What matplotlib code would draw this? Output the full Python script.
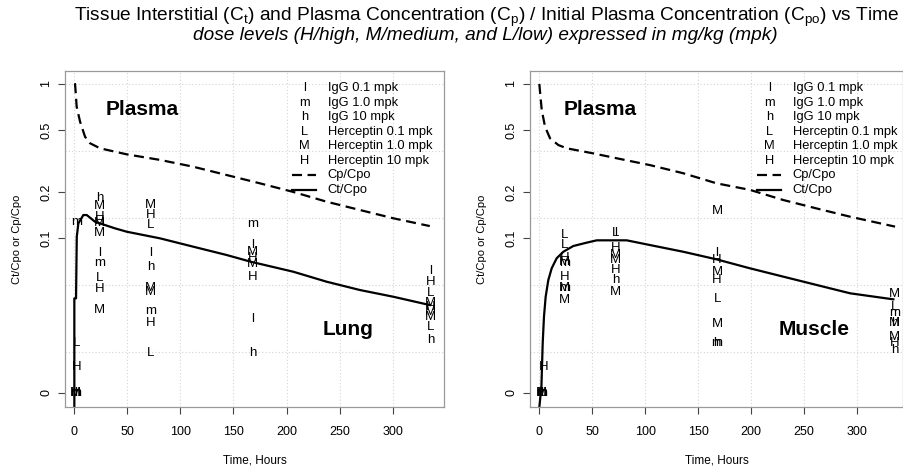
import numpy as np
import matplotlib
matplotlib.use("Agg")
import matplotlib.pyplot as plt
from matplotlib import font_manager

# ---------------------------------------------------------------------------
# Data (values are Ct/Cpo or Cp/Cpo, 0.01 shown as "0")
# ---------------------------------------------------------------------------
lung_cp_t = [0, 0.7, 2.2, 5.4, 10.1, 14.8, 24.2, 49.4, 80.8, 112, 143.6, 175,
             206, 237.8, 269.2, 300.6, 335]
lung_cp = [1.0, 1.0, 0.712, 0.570, 0.455, 0.413, 0.383, 0.350, 0.322, 0.291,
           0.257, 0.227, 0.200, 0.1726, 0.1525, 0.1348, 0.120]
lung_ct_t = [0, 0, 1.6, 2.3, 3.8, 8.5, 11.7, 19.5, 38.3, 49.4, 80.8, 112.1,
             143.6, 166.2, 206.4, 237.8, 269.2, 300.6, 335.2]
lung_ct = [0.008, 0.0408, 0.0408, 0.1024, 0.125, 0.1415, 0.1415, 0.128, 0.116,
           0.1103, 0.0999, 0.0882, 0.0779, 0.0705, 0.0607, 0.0523, 0.0462,
           0.0418, 0.0369]

muscle_cp_t = [0, 2.3, 5.4, 10.1, 18, 25.9, 51, 73.2, 104.6, 136, 167.6, 199,
               230.6, 262.2, 293.7, 336.2]
muscle_cp = [1.0, 0.678, 0.529, 0.445, 0.402, 0.383, 0.355, 0.330, 0.298,
             0.264, 0.227, 0.206, 0.177, 0.156, 0.138, 0.119]
muscle_ct_t = [0, 2, 3.2, 4.4, 6, 8.5, 11.7, 16.4, 22.7, 32.1, 44.8, 54.3,
               82.6, 104.6, 136, 167.6, 199, 230.6, 262.2, 293.7, 334.6]
muscle_ct = [0.008, 0.011, 0.0209, 0.0310, 0.0418, 0.0536, 0.0639, 0.0742,
             0.0818, 0.0891, 0.0937, 0.097, 0.097, 0.0904, 0.0818, 0.0730,
             0.0639, 0.0564, 0.0498, 0.0440, 0.0402]

# observed points, plotted with letter symbols
lung_obs_t = ([1.5] * 4 + [2, 2.5, 2.5]
              + [24] * 11 + [72] * 10 + [168] * 8 + [336] * 9)
lung_obs_v = ([0.01, 0.01, 0.01, 0.01, 0.127, 0.021, 0.0147]
              + [0.1816, 0.1627, 0.1380, 0.1294, 0.1256, 0.1077, 0.0799,
                 0.0688, 0.0550, 0.0467, 0.0343]
              + [0.1643, 0.1415, 0.1219, 0.0806, 0.0654, 0.0476, 0.0449,
                 0.0339, 0.0284, 0.0180]
              + [0.1232, 0.0904, 0.0815, 0.0745, 0.0681, 0.0564, 0.0298, 0.0180]
              + [0.0616, 0.0523, 0.0440, 0.0380, 0.0358, 0.0333, 0.0309,
                 0.0267, 0.0219])
lung_obs_sym = (list("lmhM") + list("mLH")
                + list("hMHHMMlmLHM")
                + list("MHLlhMMmHL")
                + list("mlMHMHlh")
                + list("lHLMHMMLh"))

muscle_obs_t = ([2] * 5 + [3.8]
                + [24] * 9 + [72] * 8 + [168] * 9 + [336] * 8)
muscle_obs_v = ([0.01] * 5 + [0.0147]
                + [0.105, 0.0904, 0.0745, 0.0706, 0.0690, 0.0564, 0.0474,
                   0.0474, 0.0398]
                + [0.1087, 0.1087, 0.0861, 0.0779, 0.0723, 0.0623, 0.0536,
                   0.0447]
                + [0.150, 0.0799, 0.0723, 0.0607, 0.0536, 0.0402, 0.0277,
                   0.0210, 0.0210]
                + [0.0433, 0.0360, 0.0326, 0.0281, 0.0281, 0.0230, 0.0209,
                   0.0189])
muscle_obs_sym = (list("lmhLM") + ["H"]
                  + list("LLHMmHmMM")
                  + list("LlHMMHhM")
                  + list("MlHMHLMmh")
                  + list("MLmMhMHh"))

legend_syms = ["l", "m", "h", "L", "M", "H"]
legend_labels = ["IgG 0.1 mpk", "IgG 1.0 mpk", "IgG 10 mpk",
                 "Herceptin 0.1 mpk", "Herceptin 1.0 mpk", "Herceptin 10 mpk"]

y_ticks = [1, 0.5, 0.2, 0.1, 0.01]
y_ticklabels = ["1", "0.5", "0.2", "0.1", "0"]
x_ticks = [0, 50, 100, 150, 200, 250, 300]

# ---------------------------------------------------------------------------
names = {f.name for f in font_manager.fontManager.ttflist}
FONT = "Liberation Sans"
NARROW = "Liberation Sans Narrow" if "Liberation Sans Narrow" in names else FONT
plt.rcParams["font.family"] = [FONT, "DejaVu Sans"]
plt.rcParams["mathtext.fontset"] = "custom"
plt.rcParams["mathtext.rm"] = NARROW
plt.rcParams["mathtext.it"] = NARROW + ":italic"

W, H = 904, 467
fig = plt.figure(figsize=(W / 100, H / 100), dpi=100)


def px_axes(x0, y0, x1, y1):
    return fig.add_axes([x0 / W, 1 - y1 / H, (x1 - x0) / W, (y1 - y0) / H])


def draw_panel(ax, xmax, cp_t, cp, ct_t, ct, obs_t, obs_v, obs_sym, tissue):
    ax.set_yscale("log")
    ax.set_xlim(-8.8, xmax)
    ax.set_ylim(0.0081, 1.214)
    width_px = ax.get_position().width * W
    fx = lambda px: px / width_px   # pixel offset from box left -> axes frac

    # grid as R's grid() on the ln scale
    for g in np.exp(-np.arange(5)):
        ax.axhline(g, color="#d3d3d3", lw=0.8, ls=(0, (1, 2)), zorder=0)
    for g in x_ticks:
        ax.axvline(g, color="#d3d3d3", lw=0.8, ls=(0, (1, 2)), zorder=0)

    ax.plot(cp_t, cp, color="black", lw=1.6, ls=(0, (4.5, 2.5)))
    ax.plot(ct_t, ct, color="black", lw=1.6)

    for t, v, s in zip(obs_t, obs_v, obs_sym):
        ax.text(t, v, s, ha="center", va="center", fontsize=9.5, zorder=3)

    px_plasma = {"Lung": 77, "Muscle": 70}[tissue]
    ax.text(fx(px_plasma), 0.884, "Plasma", transform=ax.transAxes,
            fontsize=15, fontweight="bold", ha="center", va="center")
    px_label = {"Lung": 283, "Muscle": 284.5}[tissue]
    ax.text(fx(px_label), 0.231, tissue, transform=ax.transAxes, fontsize=15,
            fontweight="bold", ha="center", va="center")

    # legend drawn R-style: symbol column, label column
    rows = [(406.7 - (88.3 + 14.5 * i)) / 335.7 for i in range(8)]
    sym_x, txt_x = fx(239.3), fx(262.7)
    for i, (s, lab) in enumerate(zip(legend_syms, legend_labels)):
        ax.text(sym_x, rows[i], s, transform=ax.transAxes, fontsize=9.3,
                ha="center", va="center")
        ax.text(txt_x, rows[i], lab, transform=ax.transAxes, fontsize=9.3,
                ha="left", va="center")
    ax.plot([fx(227), fx(251)], [rows[6]] * 2, transform=ax.transAxes,
            color="black", lw=1.6, ls=(0, (4.5, 2.5)))
    ax.plot([fx(227), fx(251)], [rows[7]] * 2, transform=ax.transAxes,
            color="black", lw=1.6)
    ax.text(txt_x, rows[6], "Cp/Cpo", transform=ax.transAxes, fontsize=9.3,
            ha="left", va="center")
    ax.text(txt_x, rows[7], "Ct/Cpo", transform=ax.transAxes, fontsize=9.3,
            ha="left", va="center")

    ax.set_yticks(y_ticks)
    ax.set_yticklabels(y_ticklabels, rotation=90, va="center")
    ax.yaxis.set_minor_locator(matplotlib.ticker.NullLocator())
    ax.set_xticks(x_ticks)
    ax.tick_params(direction="out", length=5, width=0.8, labelsize=9,
                   color="#444444")
    ax.tick_params(axis="x", pad=9)
    ax.tick_params(axis="y", pad=4)
    for sp in ax.spines.values():
        sp.set_color("#999999")
        sp.set_linewidth(0.9)
    ax.set_ylabel("Ct/Cpo or Cp/Cpo", fontsize=8, labelpad=13)
    ax.set_xlabel("Time, Hours", fontsize=8.5, labelpad=12)


ax1 = px_axes(65, 71, 444, 406.7)
draw_panel(ax1, 348.4, lung_cp_t, lung_cp, lung_ct_t, lung_ct,
           lung_obs_t, lung_obs_v, lung_obs_sym, "Lung")
ax2 = px_axes(530, 71, 903, 406.7)
draw_panel(ax2, 343.7, muscle_cp_t, muscle_cp, muscle_ct_t, muscle_ct,
           muscle_obs_t, muscle_obs_v, muscle_obs_sym, "Muscle")

fig.text(487 / W, 1 - 17 / H,
         r"Tissue Interstitial (C$_\mathrm{t}$) and Plasma Concentration "
         r"(C$_\mathrm{p}$) / Initial Plasma Concentration (C$_\mathrm{po}$) vs Time",
         family=[NARROW, FONT], fontsize=13.8, ha="center", va="center")
fig.text(485 / W, 1 - 36 / H,
         "dose levels (H/high, M/medium, and L/low) expressed in mg/kg (mpk)",
         family=[NARROW, FONT], style="italic", fontsize=13.7,
         ha="center", va="center")

fig.savefig("out.png", dpi=100)
